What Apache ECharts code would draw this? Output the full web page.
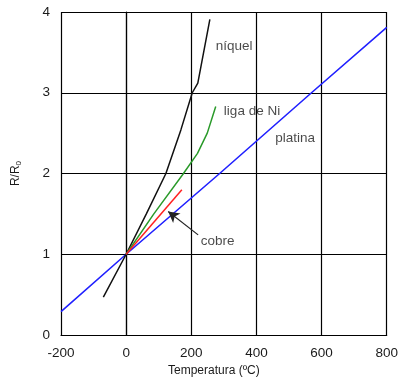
<!DOCTYPE html>
<html><head><meta charset="utf-8">
<script src="https://cdn.jsdelivr.net/npm/echarts@6/dist/echarts.min.js"></script>
<style>html,body{margin:0;padding:0;background:#fff}#c{width:401px;height:383px}</style>
</head><body><div id="c"></div>
<script>
var xTicks = [-200, 0, 200, 400, 600, 800];
var yTicks = [0, 1, 2, 3, 4];
var nickelT = [-70, 0, 62, 122, 168, 203, 220, 257];
var nickelR = [0.47, 1, 1.5, 2, 2.54, 3.0, 3.12, 3.91];
var alloyT = [0, 85, 176, 219, 249, 275];
var alloyR = [1, 1.5, 2, 2.25, 2.5, 2.83];
var copperT = [0, 171];
var copperR = [1, 1.80];
var platT = [-200, 0, 287, 569, 800];
var platR = [0.29, 1, 2, 3, 3.81];
var labelNames = ['níquel', 'liga de Ni', 'platina', 'cobre'];
var labelT = [275, 300, 458, 229];
var labelR = [3.58, 2.77, 2.43, 1.16];
var arrowFrom = [221, 1.24];
var arrowTo = [129, 1.53];

function pairs(a, b) { return a.map(function (v, i) { return [v, b[i]]; }); }
var FONT = 'Liberation Sans, Arial, sans-serif';
var TXT = '#1a1a1a';
var chart = echarts.init(document.getElementById('c'));
chart.setOption({
  animation: false,
  grid: { left: 61, right: 12, top: 12, bottom: 48 },
  xAxis: {
    type: 'value', min: xTicks[0], max: xTicks[xTicks.length - 1], interval: 200,
    name: 'Temperatura (ºC)', nameLocation: 'middle', nameGap: 30,
    nameTextStyle: { fontFamily: FONT, fontSize: 12, color: TXT, padding: [0, 20, 0, 0] },
    axisLine: { lineStyle: { color: '#000', width: 1.2 } },
    axisTick: { show: false },
    axisLabel: { fontFamily: FONT, fontSize: 13.5, color: TXT, margin: 11 },
    splitLine: { lineStyle: { color: '#000', width: 1.2 } }
  },
  yAxis: {
    type: 'value', min: yTicks[0], max: yTicks[yTicks.length - 1], interval: 1,
    name: '{a|R/R}{b|0}', nameLocation: 'middle', nameGap: 38, nameRotate: 90,
    nameTextStyle: { fontFamily: FONT, fontSize: 12, color: TXT,
      rich: { a: { fontFamily: FONT, fontSize: 12, color: TXT },
              b: { fontFamily: FONT, fontSize: 8, color: TXT, verticalAlign: 'bottom', padding: [6, 0, 0, 0] } } },
    axisLine: { lineStyle: { color: '#000', width: 1.2 } },
    axisTick: { show: false },
    axisLabel: { fontFamily: FONT, fontSize: 13.5, color: TXT, margin: 11 },
    splitLine: { lineStyle: { color: '#000', width: 1.2 } }
  },
  series: [
    { type: 'line', data: pairs(platT, platR), showSymbol: false, lineStyle: { color: '#2020ff', width: 1.6 }, z: 3 },
    { type: 'line', data: pairs(nickelT, nickelR), showSymbol: false, lineStyle: { color: '#111', width: 1.5 }, z: 4 },
    { type: 'line', data: pairs(alloyT, alloyR), showSymbol: false, lineStyle: { color: '#2a9a2a', width: 1.5 }, z: 4 },
    { type: 'line', data: pairs(copperT, copperR), showSymbol: false, lineStyle: { color: '#ff2020', width: 1.5 }, z: 4,
      markLine: { silent: true, symbol: ['none', 'arrow'], symbolSize: [9, 11],
        lineStyle: { color: '#222', width: 1.2, type: 'solid' }, label: { show: false },
        data: [[{ coord: arrowFrom }, { coord: arrowTo }]] } },
    { type: 'scatter', symbolSize: 0, silent: true,
      data: labelNames.map(function (n, i) { return { value: [labelT[i], labelR[i]], name: n }; }),
      label: { show: true, position: 'right', distance: 0, formatter: '{b}', fontFamily: FONT, fontSize: 13.5, color: TXT }, z: 5 }
  ]
});
</script></body></html>
